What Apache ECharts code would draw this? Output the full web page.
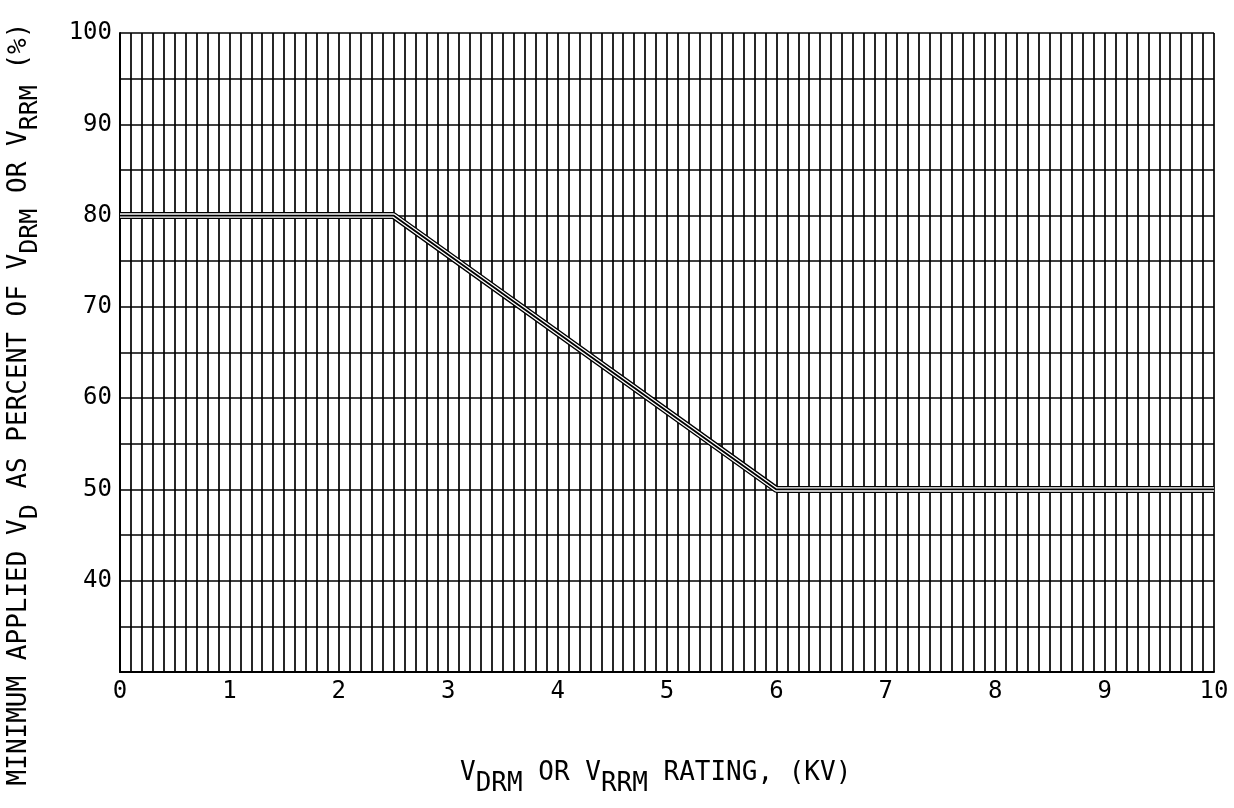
<!DOCTYPE html>
<html>
<head>
<meta charset="utf-8">
<script src="https://cdn.jsdelivr.net/npm/echarts@6/dist/echarts.min.js"></script>
<style>
  html, body { margin: 0; padding: 0; background: #fff; }
  #main { width: 1234px; height: 808px; }
</style>
</head>
<body>
<div id="main"></div>
<script>
// curve corners (kV, %)
var ratingKV = [0, 2.5, 6, 10];
var percentVD = [80, 80, 50, 50];
var yTickLabels = [40, 50, 60, 70, 80, 90, 100];

var FONT = 'DejaVu Sans Mono';
var pts = ratingKV.map(function (x, i) { return [x, percentVD[i]]; });

var chart = echarts.init(document.getElementById('main'));

var option = {
    animation: false,
    backgroundColor: '#fff',
    grid: { left: 120, right: 20, top: 33, bottom: 136, outerBoundsMode: 'none', containLabel: false },
    xAxis: {
        type: 'value',
        min: 0, max: 10, interval: 1,
        axisLine: { show: true, onZero: false, lineStyle: { color: '#000', width: 2 } },
        axisTick: { show: false },
        axisLabel: { fontFamily: FONT, fontSize: 24, color: '#000', margin: 8 },
        splitLine: { show: true, lineStyle: { color: '#000', width: 1.7 } },
        minorTick: { show: false, splitNumber: 10 },
        minorSplitLine: { show: true, lineStyle: { color: '#000', width: 1.7 } }
    },
    yAxis: {
        type: 'value',
        min: 30, max: 100, interval: 5,
        axisLine: { show: true, onZero: false, lineStyle: { color: '#000', width: 2 } },
        axisTick: { show: false },
        axisLabel: {
            fontFamily: FONT, fontSize: 24, color: '#000', margin: 8,
            formatter: function (v) { return yTickLabels.indexOf(v) >= 0 ? String(v) : ''; }
        },
        splitLine: { show: true, lineStyle: { color: '#000', width: 1.7 } }
    },
    graphic: [
        {
            // x axis title
            type: 'text', left: 460, top: 760,
            style: {
                text: '{n|V}{s|DRM}{n| OR V}{s|RRM}{n| RATING, (KV)}',
                rich: {
                    n: { fontFamily: FONT, fontSize: 26, fill: '#000', padding: [0, 0, 9, 0] },
                    s: { fontFamily: FONT, fontSize: 26, fill: '#000', padding: [14, 0, 0, 0] }
                }
            }
        },
        {
            // y axis title
            type: 'text', x: 4, y: 404, rotation: Math.PI / 2,
            style: {
                text: '{n|MINIMUM APPLIED V}{s|D}{n| AS PERCENT OF V}{s|DRM}{n| OR V}{s|RRM}{n| (%)}',
                rich: {
                    n: { fontFamily: FONT, fontSize: 26, fill: '#000', padding: [0, 0, 9, 0] },
                    s: { fontFamily: FONT, fontSize: 25, fill: '#000', padding: [14, 0, 0, 0] }
                },
                align: 'center', verticalAlign: 'top'
            }
        }
    ],
    series: [
        {
            type: 'line', data: pts, symbol: 'none', z: 3,
            lineStyle: { color: '#000', width: 7 }
        },
        {
            type: 'line', data: pts, symbol: 'none', z: 4,
            lineStyle: { color: '#fff', width: 4.4 }
        },
        {
            type: 'line', data: pts, symbol: 'none', z: 5,
            lineStyle: { color: '#000', width: 1.8 }
        }
    ]
};
chart.setOption(option);
</script>
</body>
</html>
